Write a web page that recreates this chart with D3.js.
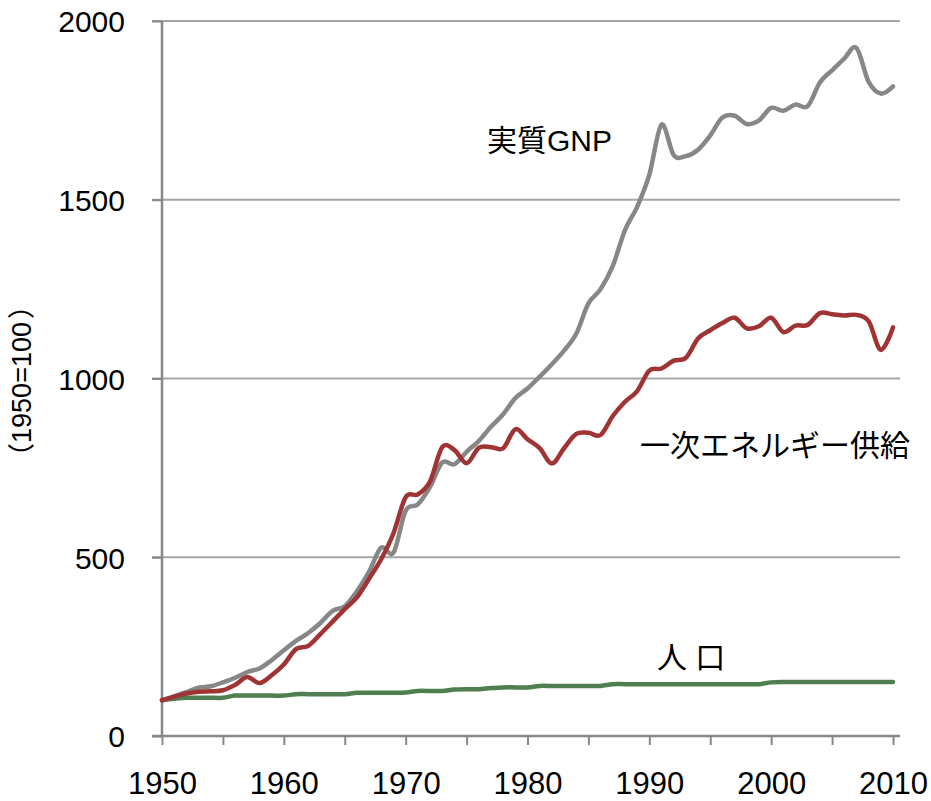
<!DOCTYPE html>
<html>
<head>
<meta charset="utf-8">
<script src="https://cdn.jsdelivr.net/npm/d3@7"></script>
<style>
  body { margin: 0; background: #fff; }
  svg text { font-family: "Liberation Sans", Arial, "Noto Sans CJK JP", sans-serif; fill: #000; }
</style>
</head>
<body>
<div id="chart"></div>
<script>
const years = [1950,1951,1952,1953,1954,1955,1956,1957,1958,1959,
  1960,1961,1962,1963,1964,1965,1966,1967,1968,1969,
  1970,1971,1972,1973,1974,1975,1976,1977,1978,1979,
  1980,1981,1982,1983,1984,1985,1986,1987,1988,1989,
  1990,1991,1992,1993,1994,1995,1996,1997,1998,1999,
  2000,2001,2002,2003,2004,2005,2006,2007,2008,2009,2010];

// 実質GNP
const gnp = [100,111,123,135,139,150,163,179,189,212,
  240,266,288,316,350,363,405,460,527,513,
  630,648,697,765,760,795,825,865,900,945,
  972,1005,1040,1078,1125,1210,1250,1315,1415,1480,
  1570,1710,1625,1622,1640,1680,1730,1735,1712,1722,
  1757,1749,1766,1762,1828,1862,1895,1925,1830,1797,1817];

// 一次エネルギー供給
const energy = [100,110,119,124,125,128,143,165,148,170,
  200,243,252,285,320,355,388,440,495,567,
  668,676,712,808,800,763,806,808,805,858,
  830,805,762,805,845,848,842,895,935,965,
  1022,1028,1050,1058,1112,1135,1155,1170,1140,1146,
  1170,1130,1148,1150,1183,1180,1176,1178,1160,1080,1143];

// 人口
const population = [100,104,107,107,107,107,113,113,113,113,
  113,117,117,117,117,117,121,121,121,121,
  122,126,126,126,130,131,131,134,136,136,
  136,140,140,140,140,140,140,145,145,145,
  145,145,145,145,145,145,145,145,145,145,
  150,151,151,151,151,151,151,151,151,151,151];

const yTicks = [0, 500, 1000, 1500, 2000];
const xTicks = [1950,1955,1960,1965,1970,1975,1980,1985,1990,1995,2000,2005,2010];

const width = 931, height = 801;
const plotLeft = 162, plotRight = 900, plotTop = 21, plotBottom = 736;

const svg = d3.select('#chart').append('svg')
    .attr('width', width)
    .attr('height', height);

const x = d3.scaleLinear().domain([1950, 2010]).range([plotLeft, 893]);
const y = d3.scaleLinear().domain([0, 2000]).range([plotBottom, plotTop]);

// gridlines (also serve as left ticks)
svg.append('g')
    .selectAll('line')
    .data(yTicks.filter(d => d > 0))
  .enter().append('line')
    .attr('x1', plotLeft - 10)
    .attr('x2', plotRight)
    .attr('y1', d => y(d))
    .attr('y2', d => y(d))
    .attr('stroke', '#a6a6a6')
    .attr('stroke-width', 2);

// y axis
const yAxis = svg.append('g')
    .attr('transform', 'translate(' + plotLeft + ',0)')
    .call(d3.axisLeft(y).tickValues(yTicks).tickSize(10).tickPadding(27)
        .tickFormat(d3.format('d')));
yAxis.select('.domain').remove();
yAxis.selectAll('line').attr('stroke', '#888').attr('stroke-width', 2);
yAxis.selectAll('text')
    .style('font-size', '30px')
    .attr('dy', '0.36em');

svg.append('line')
    .attr('x1', plotLeft).attr('x2', plotLeft)
    .attr('y1', plotTop).attr('y2', plotBottom + 1)
    .attr('stroke', '#888').attr('stroke-width', 2.5);

// x axis
const xAxis = svg.append('g')
    .attr('transform', 'translate(0,' + plotBottom + ')')
    .call(d3.axisBottom(x).tickValues(xTicks).tickSize(9).tickPadding(27)
        .tickFormat(d => d % 10 === 0 ? d : ''));
xAxis.select('.domain').remove();
xAxis.selectAll('line').attr('stroke', '#888').attr('stroke-width', 2);
xAxis.selectAll('text').style('font-size', '31px');

svg.append('line')
    .attr('x1', plotLeft - 10).attr('x2', plotRight)
    .attr('y1', plotBottom).attr('y2', plotBottom)
    .attr('stroke', '#888').attr('stroke-width', 2.5);

// lines
const line = (vals) => d3.line()
    .x((d, i) => x(years[i]))
    .y(d => y(d))
    .curve(d3.curveCardinal.tension(0))(vals);

const series = [
    {vals: population, color: '#4f7f4f'},
    {vals: gnp, color: '#878787'},
    {vals: energy, color: '#a03333'}
];

svg.append('g')
    .selectAll('path')
    .data(series)
  .enter().append('path')
    .attr('d', d => line(d.vals))
    .attr('fill', 'none')
    .attr('stroke', d => d.color)
    .attr('stroke-width', 4.5)
    .attr('stroke-linejoin', 'round')
    .attr('stroke-linecap', 'round');

// labels
svg.append('text')
    .attr('x', 487).attr('y', 151)
    .style('font-size', '30px')
    .text('実質GNP');

svg.append('text')
    .attr('x', 640).attr('y', 456)
    .style('font-size', '30px')
    .text('一次エネルギー供給');

svg.append('text')
    .attr('x', 657).attr('y', 668)
    .style('font-size', '30px')
    .text('人 口');

const yTitle = svg.append('text')
    .attr('transform', 'translate(31,381) rotate(-90)')
    .attr('text-anchor', 'middle')
    .style('font-size', '27px');
yTitle.append('tspan').text('（');
yTitle.append('tspan').attr('dx', 0).text('1950=100');
yTitle.append('tspan').attr('dx', 3).text('）');
</script>
</body>
</html>
